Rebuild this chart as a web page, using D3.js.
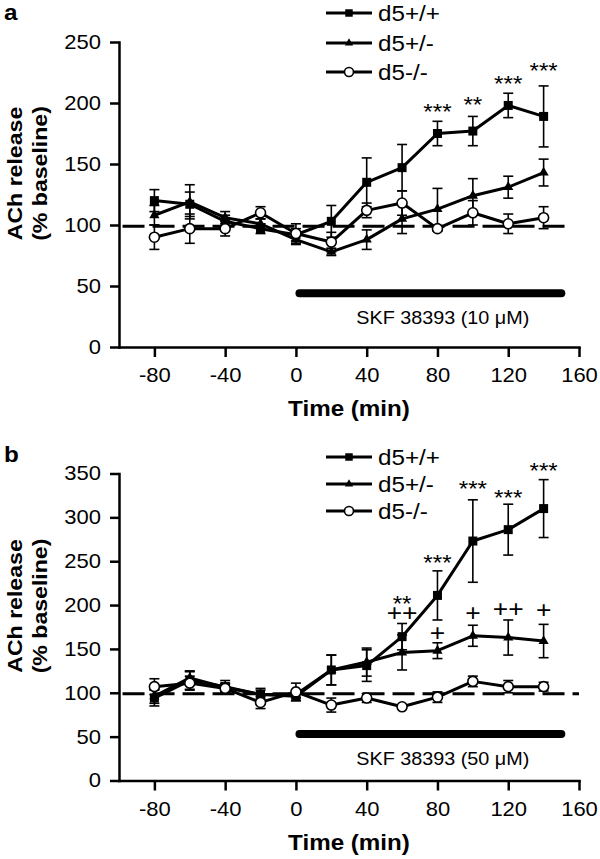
<!DOCTYPE html>
<html>
<head>
<meta charset="utf-8">
<script src="https://cdn.jsdelivr.net/npm/d3@7"></script>
<style>
body { margin: 0; background: #fff; }
svg text { font-family: "Liberation Sans", Arial, sans-serif; fill: #000; }
</style>
</head>
<body>
<svg id="chart" width="600" height="859"></svg>
<script>
// sampling times (min)
const times = [-80, -60, -40, -20, 0, 20, 40, 60, 80, 100, 120, 140];
const xTicks = [-80, -40, 0, 40, 80, 120, 160];
const seriesNames = ["d5+/+", "d5+/-", "d5-/-"];

// panel a: SKF 38393 10 uM
const aWT = [120, 117, 103, 97, 92, 103, 135, 147, 175, 177, 198, 189];
const aWTErr = [9, 10, 5, 4, 5, 13, 20, 19, 10, 12, 10, 25];
const aHet = [108, 119, 106, 101, 88, 78, 88, 105, 113, 124, 131, 143];
const aHetErr = [8, 14, 5, 4, 4, 3, 8, 12, 17, 14, 9, 11];
const aKO = [90, 97, 97, 110, 93, 86, 112, 118, 97, 110, 101, 106];
const aKOErr = [10, 12, 6, 5, 8, 8, 6, 10, 2, 10, 8, 9];
const aStarTimes = [80, 100, 120, 140];
const aStarLabels = ["***", "**", "***", "***"];
const aStarLevels = [197, 203, 220, 231];

// panel b: SKF 38393 50 uM
const bWT = [94, 114, 107, 98, 96, 126, 131, 164, 211, 273, 286, 310];
const bWTErr = [9, 10, 7, 7, 5, 17, 18, 15, 28, 47, 29, 33];
const bHet = [96, 117, 106, 98, 98, 126, 135, 146, 148, 165, 163, 159];
const bHetErr = [8, 8, 5, 5, 4, 17, 16, 20, 9, 12, 20, 19];
const bKO = [107, 111, 105, 89, 101, 86, 94, 84, 95, 113, 107, 107];
const bKOErr = [9, 8, 5, 7, 10, 8, 5, 2, 6, 6, 7, 5];
const bStarTimes = [60, 80, 100, 120, 140];
const bStarLabels = ["**", "***", "***", "***", "***"];
const bStarLevels = [208, 255, 339, 329, 359];
const bPlusTimes = [60, 80, 100, 120, 140];
const bPlusLabels = ["++", "+", "+", "++", "+"];
const bPlusLevels = [192, 169, 192, 196, 195];

const SX = 1.1; // the original lettering is a little wider than Arial

const svg = d3.select("#chart");
const x = d3.scaleLinear().domain([-100, 160]).range([119, 579]);

function addText(g, str, px, py, opts = {}) {
    const rot = opts.rotate ? ` rotate(${opts.rotate})` : "";
    return g.append("text")
        .attr("transform", `translate(${px},${py})${rot} scale(${SX},1)`)
        .attr("text-anchor", opts.anchor || "start")
        .style("font-size", (opts.size || 20) + "px")
        .style("font-weight", opts.bold ? "bold" : "normal")
        .text(str);
}

function drawMarker(g, kind, cx, cy, small) {
    if (kind === "circle") {
        g.append("circle")
            .attr("cx", cx).attr("cy", cy).attr("r", small ? 4.5 : 5)
            .attr("fill", "#fff").attr("stroke", "#000").attr("stroke-width", 1.6);
    } else {
        const type = kind === "square" ? d3.symbolSquare : d3.symbolTriangle;
        const size = kind === "square" ? (small ? 56 : 81) : (small ? 30 : 45);
        g.append("path")
            .attr("d", d3.symbol().type(type).size(size)())
            .attr("transform", `translate(${cx},${cy})`)
            .attr("fill", "#000");
    }
}

function drawPanel(p) {
    const y = d3.scaleLinear().domain([0, p.yMax]).range([p.bottom, p.top]);
    const g = svg.append("g");

    // panel letter
    addText(g, p.letter, 4, p.letterY, { size: 22, bold: true });

    // baseline reference
    g.append("line")
        .attr("x1", x(-98)).attr("x2", x(p.dashEnd))
        .attr("y1", y(99)).attr("y2", y(99))
        .attr("stroke", "#000").attr("stroke-width", 3)
        .attr("stroke-dasharray", "22,8");

    // drug application bar
    g.append("line")
        .attr("x1", x(2)).attr("x2", x(150))
        .attr("y1", y(p.barLevel)).attr("y2", y(p.barLevel))
        .attr("stroke", "#000").attr("stroke-width", 8)
        .attr("stroke-linecap", "round");
    addText(g, p.drugLabel, x(83), y(p.barLevel) + 31, { size: 18, anchor: "middle" });

    const line = d3.line().x((d, i) => x(times[i])).y(d => y(d));

    p.series.forEach(s => {
        const eb = g.append("g").attr("stroke", "#000").attr("stroke-width", 1.6);
        s.values.forEach((v, i) => {
            const cx = x(times[i]), e = s.err[i];
            eb.append("line").attr("x1", cx).attr("x2", cx).attr("y1", y(v - e)).attr("y2", y(v + e));
            eb.append("line").attr("x1", cx - 5).attr("x2", cx + 5).attr("y1", y(v + e)).attr("y2", y(v + e));
            eb.append("line").attr("x1", cx - 5).attr("x2", cx + 5).attr("y1", y(v - e)).attr("y2", y(v - e));
        });
        g.append("path")
            .datum(s.values)
            .attr("d", line)
            .attr("fill", "none").attr("stroke", "#000").attr("stroke-width", 3)
            .attr("stroke-linejoin", "round");
        s.values.forEach((v, i) => drawMarker(g, s.marker, x(times[i]), y(v)));
    });

    // significance marks
    p.stars.times.forEach((t, i) => {
        addText(g, p.stars.labels[i], x(t), y(p.stars.levels[i]) + 12.8, { size: 22, anchor: "middle" });
    });
    if (p.plus) {
        p.plus.times.forEach((t, i) => {
            addText(g, p.plus.labels[i], x(t), y(p.plus.levels[i]) + 8.5, { size: 24, anchor: "middle" });
        });
    }

    // axes
    const yAxis = g.append("g")
        .attr("transform", `translate(${x(-100)},0)`)
        .call(d3.axisLeft(y).tickValues(d3.range(0, p.yMax + 1, 50))
            .tickSize(9).tickPadding(9).tickSizeOuter(0));
    const xAxis = g.append("g")
        .attr("transform", `translate(0,${y(0)})`)
        .call(d3.axisBottom(x).tickValues(xTicks).tickFormat(d => String(d))
            .tickSize(10).tickPadding(11).tickSizeOuter(0));
    [yAxis, xAxis].forEach(a => {
        a.selectAll("path, line").attr("stroke", "#000").attr("stroke-width", 2.5);
        a.select(".domain").attr("stroke-linecap", "square");
        a.selectAll("text")
            .attr("fill", "#000")
            .style("font-size", "20px")
            .style("font-family", '"Liberation Sans", Arial, sans-serif')
            .attr("transform", `scale(${SX},1)`);
    });
    yAxis.selectAll("text").attr("x", -18 / SX);

    addText(g, "Time (min)", 349, y(0) + 69, { size: 22, bold: true, anchor: "middle" });

    const midY = (p.top + p.bottom) / 2 - 21;
    addText(g, "ACh release", 22, midY, { size: 21, bold: true, anchor: "middle", rotate: -90 });
    addText(g, "(% baseline)", 47, midY, { size: 21, bold: true, anchor: "middle", rotate: -90 });

    // legend
    p.series.forEach((s, i) => {
        const ly = p.legendY[i];
        g.append("line").attr("x1", 326).attr("x2", 372).attr("y1", ly).attr("y2", ly)
            .attr("stroke", "#000").attr("stroke-width", 3);
        drawMarker(g, s.marker, 349, ly, true);
        addText(g, seriesNames[i], 378, ly + 8, { size: 22 });
    });
}

drawPanel({
    letter: "a", letterY: 20,
    yMax: 250, top: 42, bottom: 347,
    dashEnd: 152, barLevel: 44,
    drugLabel: "SKF 38393 (10 \u03bcM)",
    legendY: [13, 43, 72],
    series: [
        { values: aWT, err: aWTErr, marker: "square" },
        { values: aHet, err: aHetErr, marker: "triangle" },
        { values: aKO, err: aKOErr, marker: "circle" }
    ],
    stars: { times: aStarTimes, labels: aStarLabels, levels: aStarLevels }
});

drawPanel({
    letter: "b", letterY: 462,
    yMax: 350, top: 473.5, bottom: 780.5,
    dashEnd: 160, barLevel: 53,
    drugLabel: "SKF 38393 (50 \u03bcM)",
    legendY: [457, 484, 511],
    series: [
        { values: bWT, err: bWTErr, marker: "square" },
        { values: bHet, err: bHetErr, marker: "triangle" },
        { values: bKO, err: bKOErr, marker: "circle" }
    ],
    stars: { times: bStarTimes, labels: bStarLabels, levels: bStarLevels },
    plus: { times: bPlusTimes, labels: bPlusLabels, levels: bPlusLevels }
});
</script>
</body>
</html>
